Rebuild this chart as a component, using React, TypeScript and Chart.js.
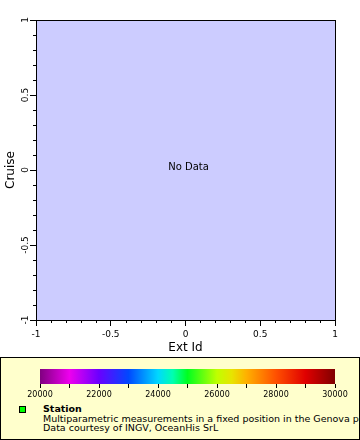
import React, { useEffect, useRef } from 'react';
import { Chart, registerables } from 'chart.js';

Chart.register(...registerables);

// ---- data ----
const X_MIN = -1;
const X_MAX = 1;
const Y_MIN = -1;
const Y_MAX = 1;
const MAJOR_STEP = 0.5;
const MINOR_TICKS = [-0.9, -0.8, -0.7, -0.6, -0.4, -0.3, -0.2, -0.1, 0.1, 0.2, 0.3, 0.4, 0.6, 0.7, 0.8, 0.9];
const X_TITLE = 'Ext Id';
const Y_TITLE = 'Cruise';
const NO_DATA_TEXT = 'No Data';
const stationPoints: { x: number; y: number }[] = [];

const CB_MIN = 20000;
const CB_MAX = 30000;
const CB_TICK_STEP = 1000;
const CB_LABEL_STEP = 2000;
const CB_STOP_VALUES = [20000, 21000, 22000, 23000, 24000, 24500, 25000, 26000, 26500, 27000, 28000, 29000, 30000];
const CB_STOP_COLORS = ['#800080', '#ee00ee', '#6a00ff', '#0048ff', '#00d8ff', '#00ffb0', '#00ff20', '#c0ff00', '#e8e400', '#ffb000', '#ff5000', '#e00000', '#800000'];

const LEGEND_TITLE = 'Station';
const LEGEND_LINES = [
  'Multiparametric measurements in a fixed position in the Genova port',
  'Data courtesy of INGV, OceanHis SrL',
];

const FONT = '"DejaVu Sans", sans-serif';

const plotPlugin = {
  id: 'plotDecor',
  beforeDraw(chart: any) {
    const { ctx, chartArea } = chart;
    ctx.save();
    ctx.fillStyle = '#ccccff';
    ctx.fillRect(chartArea.left, chartArea.top, chartArea.right - chartArea.left, chartArea.bottom - chartArea.top);
    ctx.restore();
  },
  afterDraw(chart: any) {
    const { ctx, chartArea } = chart;
    const xs = chart.scales.x;
    const ys = chart.scales.y;
    ctx.save();
    ctx.strokeStyle = '#000';
    ctx.lineWidth = 1;
    ctx.strokeRect(chartArea.left + 0.5, chartArea.top + 0.5, chartArea.right - chartArea.left, chartArea.bottom - chartArea.top);
    // minor ticks
    ctx.beginPath();
    for (const v of MINOR_TICKS) {
      const px = Math.round(xs.getPixelForValue(v)) + 0.5;
      ctx.moveTo(px, chartArea.bottom);
      ctx.lineTo(px, chartArea.bottom + 3);
      const py = Math.round(ys.getPixelForValue(v)) + 0.5;
      ctx.moveTo(chartArea.left, py);
      ctx.lineTo(chartArea.left - 3, py);
    }
    ctx.stroke();
    // rotated y tick labels
    ctx.fillStyle = '#000';
    ctx.font = `9px ${FONT}`;
    ctx.textAlign = 'center';
    ctx.textBaseline = 'middle';
    for (const t of ys.ticks) {
      const py = ys.getPixelForValue(t.value);
      ctx.save();
      ctx.translate(chartArea.left - 10, py);
      ctx.rotate(-Math.PI / 2);
      ctx.fillText(String(t.value), 0, 0);
      ctx.restore();
    }
    // no data text
    ctx.font = `10px ${FONT}`;
    ctx.fillText(NO_DATA_TEXT, (chartArea.left + chartArea.right) / 2 + 3, (chartArea.top + chartArea.bottom) / 2 - 3);
    ctx.restore();
  },
};

const colorbarPlugin = {
  id: 'colorbar',
  beforeDraw(chart: any) {
    const { ctx, chartArea } = chart;
    const xs = chart.scales.x;
    const x0 = xs.getPixelForValue(CB_MIN);
    const x1 = xs.getPixelForValue(CB_MAX);
    const g = ctx.createLinearGradient(x0, 0, x1, 0);
    CB_STOP_VALUES.forEach((v, i) => {
      g.addColorStop((xs.getPixelForValue(v) - x0) / (x1 - x0), CB_STOP_COLORS[i]);
    });
    ctx.save();
    ctx.fillStyle = g;
    ctx.fillRect(x0, chartArea.top, x1 - x0, chartArea.bottom - chartArea.top);
    ctx.restore();
  },
};

export default function App() {
  const mainRef = useRef<HTMLCanvasElement>(null);
  const cbRef = useRef<HTMLCanvasElement>(null);

  useEffect(() => {
    document.body.style.margin = '0';
    const main = new Chart(mainRef.current!, {
      type: 'scatter',
      data: { datasets: [{ label: LEGEND_TITLE, data: stationPoints, backgroundColor: '#00ff00', borderColor: '#000', pointStyle: 'rect' }] },
      options: {
        responsive: false,
        animation: false,
        layout: { padding: { top: 20, right: 25, left: 0, bottom: 0 } },
        plugins: { legend: { display: false }, tooltip: { enabled: false } },
        scales: {
          x: {
            type: 'linear',
            min: X_MIN,
            max: X_MAX,
            ticks: { stepSize: MAJOR_STEP, color: '#000', font: { family: FONT, size: 9 }, padding: 3, maxRotation: 0, callback: (v: any) => String(v) },
            grid: { drawOnChartArea: false, tickLength: 6, color: '#000', tickColor: '#000' },
            border: { color: '#000', width: 1 },
            title: { display: true, text: X_TITLE, color: '#000', font: { family: FONT, size: 12 }, padding: { top: 0, bottom: 1 } },
            afterFit: (s: any) => { s.height = 36; },
          },
          y: {
            type: 'linear',
            min: Y_MIN,
            max: Y_MAX,
            ticks: { stepSize: MAJOR_STEP, display: false },
            grid: { drawOnChartArea: false, tickLength: 6, color: '#000', tickColor: '#000' },
            border: { color: '#000', width: 1 },
            title: { display: true, text: Y_TITLE, color: '#000', font: { family: FONT, size: 12 }, padding: { top: 4, bottom: 0 } },
            afterFit: (s: any) => { s.width = 36; },
          },
        },
      },
      plugins: [plotPlugin],
    });

    const cb = new Chart(cbRef.current!, {
      type: 'scatter',
      data: { datasets: [] },
      options: {
        responsive: false,
        animation: false,
        layout: { padding: { top: 12, right: 25, left: 40, bottom: 0 } },
        plugins: { legend: { display: false }, tooltip: { enabled: false } },
        scales: {
          x: {
            type: 'linear',
            min: CB_MIN,
            max: CB_MAX,
            ticks: {
              stepSize: CB_TICK_STEP,
              autoSkip: false,
              maxRotation: 0,
              color: '#000',
              padding: 2,
              font: { family: FONT, size: 8 },
              callback: (v: any) => (Number(v) % CB_LABEL_STEP === 0 ? String(v) : ''),
            },
            grid: { drawOnChartArea: false, tickLength: 4, color: '#000', tickColor: '#000' },
            border: { display: false },
            afterFit: (s: any) => { s.height = 23; },
          },
          y: { display: false, min: 0, max: 1 },
        },
      },
      plugins: [colorbarPlugin],
    });

    return () => {
      main.destroy();
      cb.destroy();
    };
  }, []);

  return (
    <div style={{ position: 'relative', width: 360, height: 440, background: '#fff', overflow: 'hidden' }}>
      <canvas ref={mainRef} width={360} height={356} style={{ position: 'absolute', left: 0, top: 0 }} />
      <div
        style={{
          position: 'absolute',
          left: 0,
          top: 357,
          width: 360,
          height: 83,
          boxSizing: 'border-box',
          border: '1px solid #000',
          background: '#ffffcc',
          overflow: 'hidden',
        }}
      >
        <div
          style={{
            position: 'absolute',
            left: 18,
            top: 48,
            width: 7,
            height: 7,
            boxSizing: 'border-box',
            border: '1px solid #000',
            background: '#00ff00',
          }}
        />
        <div
          style={{
            position: 'absolute',
            left: 42,
            top: 46,
            fontFamily: FONT,
            fontSize: 9.5,
            letterSpacing: '0px',
            lineHeight: '9.5px',
            color: '#000',
            whiteSpace: 'nowrap',
          }}
        >
          <div style={{ fontWeight: 'bold' }}>{LEGEND_TITLE}</div>
          {LEGEND_LINES.map((l) => (
            <div key={l}>{l}</div>
          ))}
        </div>
      </div>
      <canvas ref={cbRef} width={360} height={50} style={{ position: 'absolute', left: 0, top: 357 }} />
    </div>
  );
}
